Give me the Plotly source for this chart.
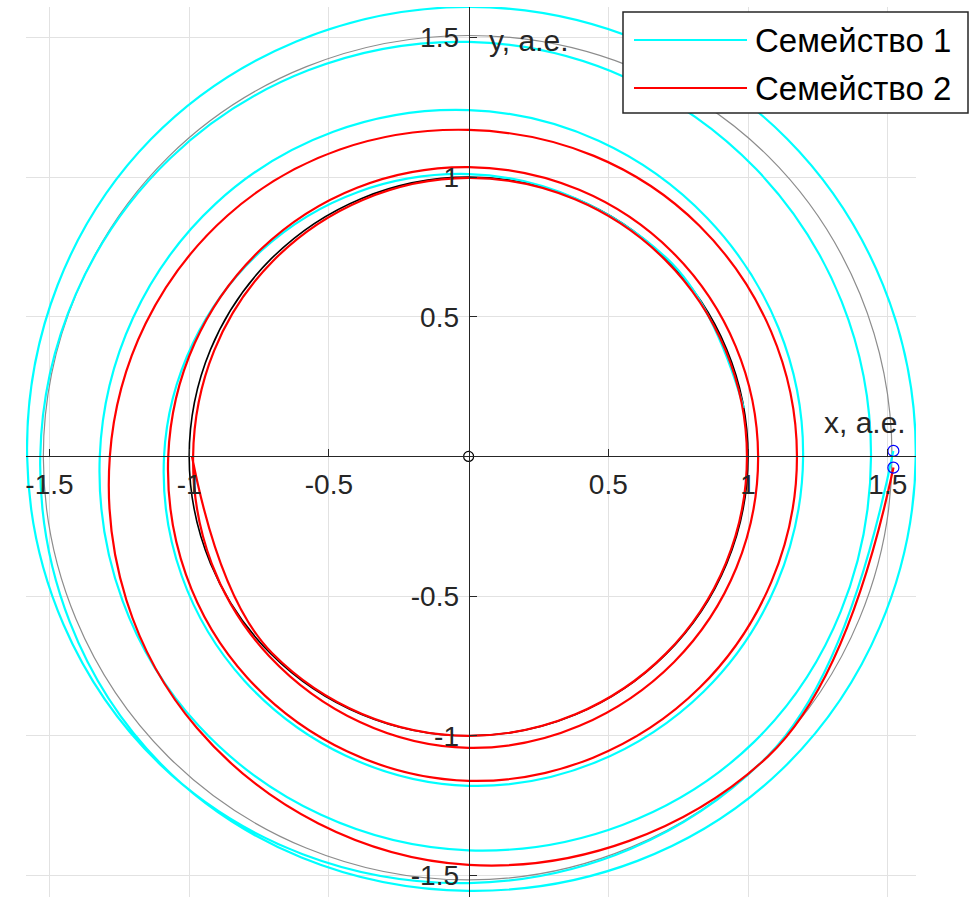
import numpy as np
import plotly.graph_objects as go

# ---- trajectory data: cumulative polar angle (deg) and radius (a.e.) ----
fam1_theta = [10, 45, 90, 135, 180, 225, 270, 315, 360, 405, 450, 495, 540, 585, 630,
              675, 720, 765, 810, 855, 900, 945, 990, 1035, 1080, 1125, 1170, 1215,
              1260, 1305, 1350, 1395, 1440.75]
fam1_r = [1.000, 1.003, 1.011, 1.045, 1.090, 1.135, 1.179, 1.190, 1.197, 1.207, 1.240,
          1.280, 1.320, 1.365, 1.410, 1.445, 1.440, 1.455, 1.484, 1.510, 1.533, 1.557,
          1.555, 1.585, 1.600, 1.610, 1.609, 1.607, 1.580, 1.560, 1.527, 1.515, 1.520]

fam2_theta = [180, 225, 270, 315, 360, 405, 450, 495, 540, 585, 630, 675, 720, 765, 810,
              855, 900, 945, 990, 1035, 1080, 1125, 1170, 1215, 1260, 1305, 1350, 1395,
              1438.5]
fam2_r = [0.990, 0.995, 1.000, 0.998, 0.996, 0.995, 0.997, 0.990, 0.986, 1.010, 1.043,
          1.040, 1.036, 1.033, 1.036, 1.050, 1.075, 1.120, 1.161, 1.170, 1.175, 1.168,
          1.169, 1.220, 1.284, 1.375, 1.462, 1.517, 1.521]

mars_theta = [0, 45, 90, 135, 180, 225, 270, 315, 360]
mars_r = [1.515, 1.518, 1.507, 1.518, 1.522, 1.520, 1.516, 1.515, 1.515]

earth_theta = [0, 22.5, 45, 67.5, 90, 112.5, 135, 157.5, 180, 202.5, 225, 247.5, 270,
               292.5, 315, 337.5, 360]
earth_r = [1.0] * len(earth_theta)

start_x = [1.52, 1.52]
start_y = [0.02, -0.04]

tick_vals = [-1.5, -1, -0.5, 0.5, 1, 1.5]
tick_text = ["-1.5", "-1", "-0.5", "0.5", "1", "1.5"]

x_range = [-1.584, 1.601]
y_range = [-1.577, 1.609]

legend_names = ["Семейство 1", "Семейство 2"]
FONT = "Liberation Sans, Arial, Helvetica, sans-serif"
AXIS_COLOR = "#262626"
GRID_COLOR = "#e2e2e2"
SMOOTH = 1.12


def to_xy(theta_deg, r):
    t = np.radians(np.asarray(theta_deg, dtype=float))
    r = np.asarray(r, dtype=float)
    return r * np.cos(t), r * np.sin(t)


def orbit(theta, r, color, width, smoothing=SMOOTH):
    x, y = to_xy(theta, r)
    return go.Scatter(x=x, y=y, mode="lines", showlegend=False,
                      line=dict(color=color, width=width, shape="spline", smoothing=smoothing))


fig = go.Figure()
fig.add_trace(orbit(mars_theta, mars_r, "#8c8c8c", 1.2))
fig.add_trace(orbit(earth_theta, earth_r, "black", 1.6, 1.03))
fig.add_trace(orbit(fam1_theta, fam1_r, "#00ffff", 2.2))
fig.add_trace(orbit(fam2_theta, fam2_r, "#ff0000", 2.2))

# start points and the Sun at the origin
fig.add_trace(go.Scatter(x=start_x, y=start_y, mode="markers",
                         marker=dict(symbol="circle-open", color="blue", size=11, line=dict(width=1.2)),
                         showlegend=False))
fig.add_trace(go.Scatter(x=[0], y=[0], mode="markers",
                         marker=dict(symbol="circle-open", color="black", size=10, line=dict(width=1.2)),
                         showlegend=False))

W, H = 976, 897
ml, mr, mt, mb = 26, 60, 7, 0
pw, ph = W - ml - mr, H - mt - mb
TICK_SIZE = 28

fig.update_layout(
    width=W, height=H,
    margin=dict(l=ml, r=mr, t=mt, b=mb, pad=0),
    paper_bgcolor="white", plot_bgcolor="white",
    font=dict(family=FONT, color=AXIS_COLOR),
    showlegend=False,
    xaxis=dict(range=x_range, tickvals=tick_vals, ticktext=tick_text,
               showgrid=True, gridcolor=GRID_COLOR, gridwidth=1, zeroline=False,
               showline=True, linecolor=AXIS_COLOR, linewidth=1,
               ticks="inside", ticklen=7, tickcolor=AXIS_COLOR, tickwidth=1,
               tickfont=dict(size=TICK_SIZE, family=FONT, color=AXIS_COLOR),
               anchor="free", side="bottom",
               position=(0 - y_range[0]) / (y_range[1] - y_range[0]),
               ticklabelstandoff=3),
    yaxis=dict(range=y_range, tickvals=tick_vals, ticktext=tick_text,
               showgrid=True, gridcolor=GRID_COLOR, gridwidth=1, zeroline=False,
               showline=True, linecolor=AXIS_COLOR, linewidth=1,
               ticks="inside", ticklen=7, tickcolor=AXIS_COLOR, tickwidth=1,
               tickfont=dict(size=TICK_SIZE, family=FONT, color=AXIS_COLOR),
               anchor="free", side="left",
               position=(0 - x_range[0]) / (x_range[1] - x_range[0]),
               ticklabelstandoff=4),
)

# axis titles
fig.add_annotation(x=1.418, y=0.12, xref="x", yref="y", text="x, а.е.", showarrow=False,
                   font=dict(size=30, family=FONT, color=AXIS_COLOR), xanchor="center", yanchor="middle")
fig.add_annotation(x=0.066, y=1.49, xref="x", yref="y", text="y, а.е.", showarrow=False,
                   font=dict(size=30, family=FONT, color=AXIS_COLOR), xanchor="left", yanchor="middle")


# legend box drawn in paper coordinates
def px_x(p):
    return (p - ml) / pw


def px_y(p):
    return (H - mb - p) / ph


fig.add_shape(type="rect", xref="paper", yref="paper",
              x0=px_x(623), x1=px_x(968), y0=px_y(113), y1=px_y(12),
              line=dict(color=AXIS_COLOR, width=1.5), fillcolor="white", layer="above")
for name, color, py in zip(legend_names, ["#00ffff", "#ff0000"], [40, 88]):
    fig.add_shape(type="line", xref="paper", yref="paper",
                  x0=px_x(634), x1=px_x(747), y0=px_y(py), y1=px_y(py),
                  line=dict(color=color, width=2), layer="above")
    fig.add_annotation(x=px_x(753), y=px_y(py), xref="paper", yref="paper", text=name,
                       showarrow=False, xanchor="left", yanchor="middle",
                       font=dict(size=33, family=FONT, color="black"))

fig.write_html("out.html")
